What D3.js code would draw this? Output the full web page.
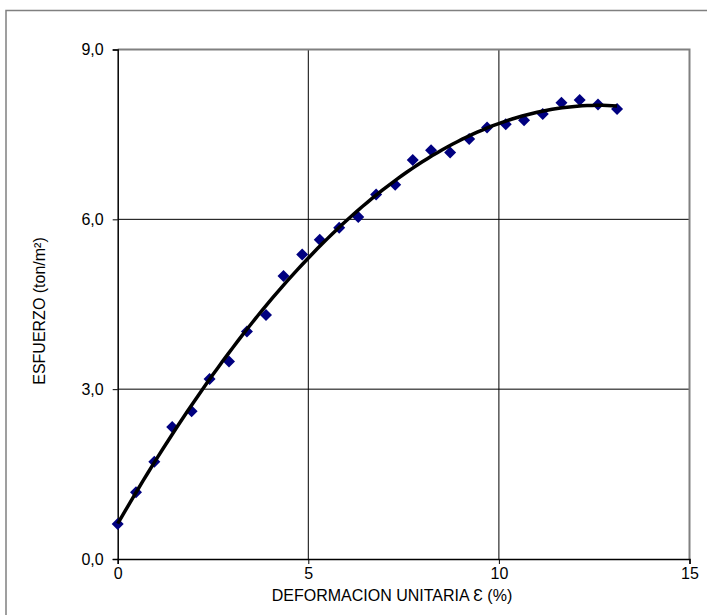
<!DOCTYPE html>
<html><head><meta charset="utf-8">
<script src="https://cdn.jsdelivr.net/npm/d3@7"></script>
<style>
body{margin:0;background:#fff;}
text{font-family:"Liberation Sans",Arial,sans-serif;fill:#000;}
</style></head>
<body><svg id="c" width="707" height="615"></svg>
<script>
const strain = [0,0.48,0.96,1.43,1.94,2.41,2.92,3.39,3.89,4.35,4.84,5.30,5.81,6.31,6.78,7.28,7.74,8.22,8.72,9.22,9.69,10.18,10.66,11.15,11.64,12.12,12.60,13.10];
const stress = [0.62,1.18,1.72,2.33,2.61,3.18,3.49,4.02,4.31,5.00,5.38,5.64,5.85,6.04,6.44,6.61,7.05,7.22,7.18,7.42,7.62,7.68,7.75,7.86,8.06,8.11,8.03,7.95];
const xTicks = [0,5,10,15];
const yTicks = [0,3,6,9];
const xTitle = "DEFORMACION UNITARIA \u0190 (%)";
const yTitle = "ESFUERZO (ton/m\u00B2)";

const svg = d3.select("#c");
const L=117.7, R=689.5, T=49.5, B=559;
const x = d3.scaleLinear().domain([0,15]).range([L,R]);
const y = d3.scaleLinear().domain([0,9]).range([B,T]);
const FS = 16;

// outer frame
svg.append("rect").attr("x",6).attr("y",10.5).attr("width",720).attr("height",640)
  .attr("fill","none").attr("stroke","#808080").attr("stroke-width",1.5);

// gridlines
svg.append("g").selectAll("line").data(xTicks.filter(d=>d>0&&d<15)).join("line")
  .attr("x1",d=>x(d)).attr("x2",d=>x(d)).attr("y1",T).attr("y2",B)
  .attr("stroke","#000").attr("stroke-width",1);
svg.append("g").selectAll("line").data(yTicks.filter(d=>d>0&&d<9)).join("line")
  .attr("y1",d=>y(d)).attr("y2",d=>y(d)).attr("x1",L).attr("x2",R)
  .attr("stroke","#000").attr("stroke-width",1);

// plot border top/right
svg.append("path").attr("d",`M${L},${T}H${R}V${B}`).attr("fill","none")
  .attr("stroke","#808080").attr("stroke-width",2);

// axes
const fmt = d=>d3.format(".1f")(d).replace(".",",");
const ax = svg.append("g").attr("transform",`translate(0,${B})`)
  .call(d3.axisBottom(x).tickValues(xTicks).tickSize(5).tickPadding(4).tickFormat(d3.format("d")));
const ay = svg.append("g").attr("transform",`translate(${L},0)`)
  .call(d3.axisLeft(y).tickValues(yTicks).tickSize(5).tickPadding(9).tickFormat(fmt));
[ax,ay].forEach(g=>{
  g.select(".domain").attr("stroke","#000").attr("stroke-width",1.5);
  g.selectAll(".tick line").attr("stroke","#000");
  g.selectAll("text").attr("font-size",FS).attr("font-family","Liberation Sans, Arial, sans-serif").attr("fill","#000");
});

// titles
svg.append("text").attr("x",392).attr("y",601).attr("text-anchor","middle")
  .attr("font-size",FS).text(xTitle);
svg.append("text").attr("transform",`translate(45,311) rotate(-90)`)
  .attr("text-anchor","middle").attr("font-size",FS).text(yTitle);

// quadratic least-squares trend from data
function polyfit(xs,ys,deg){
  const n=deg+1, A=[...Array(n)].map(()=>Array(n+1).fill(0));
  xs.forEach((xv,k)=>{for(let i=0;i<n;i++){for(let j=0;j<n;j++)A[i][j]+=Math.pow(xv,i+j);A[i][n]+=ys[k]*Math.pow(xv,i);}});
  for(let i=0;i<n;i++){let p=i;for(let r=i+1;r<n;r++)if(Math.abs(A[r][i])>Math.abs(A[p][i]))p=r;[A[i],A[p]]=[A[p],A[i]];
    for(let r=0;r<n;r++)if(r!==i){const f=A[r][i]/A[i][i];for(let c=i;c<=n;c++)A[r][c]-=f*A[i][c];}}
  return A.map((row,i)=>row[n]/row[i]);
}
const coef = polyfit(strain,stress,2);
const xmax = strain[strain.length-1];
const xs = d3.range(0,101).map(i=>xmax*i/100);
const trend = xs.map(v=>[v,coef.reduce((s,c,i)=>s+c*Math.pow(v,i),0)]);

// markers (square diamonds)
const r = 6;
svg.append("g").selectAll("path").data(strain.map((v,i)=>[v,stress[i]])).join("path")
  .attr("d",`M0,${-r}L${r},0L0,${r}L${-r},0Z`).attr("transform",d=>`translate(${x(d[0])},${y(d[1])})`)
  .attr("fill","#000080");

svg.append("path").datum(trend)
  .attr("d",d3.line().x(d=>x(d[0])).y(d=>y(d[1])))
  .attr("fill","none").attr("stroke","#000").attr("stroke-width",3.5).attr("stroke-linejoin","round");
</script></body></html>
